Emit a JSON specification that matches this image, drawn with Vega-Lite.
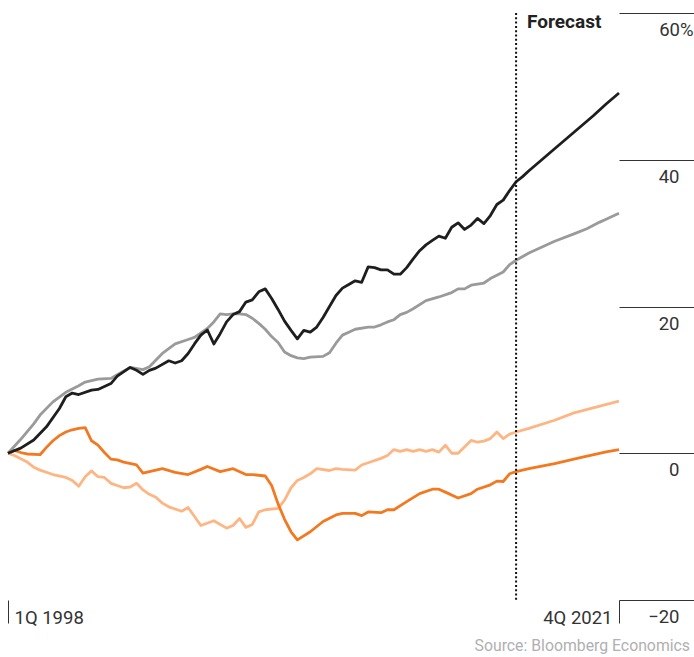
{
 "$schema": "https://vega.github.io/schema/vega-lite/v6.json",
 "width": 611,
 "height": 587,
 "autosize": {"type": "none"},
 "padding": {"left": 8, "top": 13, "right": 75, "bottom": 57},
 "config": {"view": {"stroke": null}, "font": "Roboto"},
 "datasets": {
  "series": [
   {"s":"l","d":"1998-01-01","v":0},{"s":"l","d":"1998-04-01","v":-0.3},{"s":"l","d":"1998-07-01","v":-0.75},{"s":"l","d":"1998-10-01","v":-1.2},
   {"s":"l","d":"1999-01-01","v":-1.9},{"s":"l","d":"1999-04-01","v":-2.3},{"s":"l","d":"1999-10-01","v":-2.9},
   {"s":"l","d":"2000-04-01","v":-3.3},{"s":"l","d":"2000-07-01","v":-3.7},{"s":"l","d":"2000-10-01","v":-4.5},
   {"s":"l","d":"2001-01-01","v":-3.2},{"s":"l","d":"2001-04-01","v":-2.4},{"s":"l","d":"2001-07-01","v":-3.2},{"s":"l","d":"2001-10-01","v":-3.3},
   {"s":"l","d":"2002-01-01","v":-4.1},{"s":"l","d":"2002-04-01","v":-4.4},{"s":"l","d":"2002-07-01","v":-4.7},{"s":"l","d":"2002-10-01","v":-4.6},
   {"s":"l","d":"2003-01-01","v":-4.1},{"s":"l","d":"2003-04-01","v":-5.0},{"s":"l","d":"2003-07-01","v":-5.6},{"s":"l","d":"2003-10-01","v":-6.0},
   {"s":"l","d":"2004-01-01","v":-6.8},{"s":"l","d":"2004-04-01","v":-7.3},{"s":"l","d":"2004-10-01","v":-7.9},
   {"s":"l","d":"2005-01-01","v":-7.4},{"s":"l","d":"2005-07-01","v":-9.85},
   {"s":"l","d":"2006-01-01","v":-9.2},{"s":"l","d":"2006-07-01","v":-10.2},{"s":"l","d":"2006-10-01","v":-9.85},
   {"s":"l","d":"2007-01-01","v":-8.9},{"s":"l","d":"2007-04-01","v":-10.1},{"s":"l","d":"2007-07-01","v":-9.7},{"s":"l","d":"2007-10-01","v":-8.0},
   {"s":"l","d":"2008-01-01","v":-7.7},{"s":"l","d":"2008-07-01","v":-7.5},{"s":"l","d":"2008-10-01","v":-6.4},
   {"s":"l","d":"2009-01-01","v":-4.7},{"s":"l","d":"2009-04-01","v":-3.7},{"s":"l","d":"2009-07-01","v":-3.3},{"s":"l","d":"2009-10-01","v":-2.8},
   {"s":"l","d":"2010-01-01","v":-2.1},{"s":"l","d":"2010-07-01","v":-2.35},{"s":"l","d":"2010-10-01","v":-2.1},
   {"s":"l","d":"2011-01-01","v":-2.2},{"s":"l","d":"2011-07-01","v":-2.3},{"s":"l","d":"2011-10-01","v":-1.6},
   {"s":"l","d":"2012-01-01","v":-1.3},{"s":"l","d":"2012-07-01","v":-0.7},{"s":"l","d":"2012-10-01","v":-0.3},
   {"s":"l","d":"2013-01-01","v":0.5},{"s":"l","d":"2013-04-01","v":0.25},{"s":"l","d":"2013-07-01","v":0.5},{"s":"l","d":"2013-10-01","v":0.25},
   {"s":"l","d":"2014-01-01","v":0.5},{"s":"l","d":"2014-04-01","v":0.25},{"s":"l","d":"2014-07-01","v":0.5},{"s":"l","d":"2014-10-01","v":0.15},
   {"s":"l","d":"2015-01-01","v":1.1},{"s":"l","d":"2015-04-01","v":0.0},{"s":"l","d":"2015-07-01","v":0.0},
   {"s":"l","d":"2016-01-01","v":1.75},{"s":"l","d":"2016-04-01","v":1.5},{"s":"l","d":"2016-07-01","v":1.65},{"s":"l","d":"2016-10-01","v":2.0},
   {"s":"l","d":"2017-01-01","v":2.9},{"s":"l","d":"2017-04-01","v":2.0},{"s":"l","d":"2017-07-01","v":2.6},{"s":"l","d":"2017-10-01","v":2.9},
   {"s":"l","d":"2018-04-01","v":3.4},{"s":"l","d":"2019-04-01","v":4.5},{"s":"l","d":"2020-01-01","v":5.5},{"s":"l","d":"2021-10-01","v":7.1},

   {"s":"o","d":"1998-01-01","v":0},{"s":"o","d":"1998-04-01","v":0.4},{"s":"o","d":"1998-07-01","v":0.1},{"s":"o","d":"1998-10-01","v":-0.1},
   {"s":"o","d":"1999-04-01","v":-0.2},{"s":"o","d":"1999-07-01","v":0.8},{"s":"o","d":"1999-10-01","v":1.7},
   {"s":"o","d":"2000-01-01","v":2.4},{"s":"o","d":"2000-04-01","v":2.9},{"s":"o","d":"2000-07-01","v":3.2},{"s":"o","d":"2000-10-01","v":3.4},
   {"s":"o","d":"2001-01-01","v":3.5},{"s":"o","d":"2001-04-01","v":1.7},{"s":"o","d":"2001-07-01","v":1.1},{"s":"o","d":"2001-10-01","v":0.1},
   {"s":"o","d":"2002-01-01","v":-0.8},{"s":"o","d":"2002-04-01","v":-0.9},{"s":"o","d":"2002-07-01","v":-1.2},
   {"s":"o","d":"2003-01-01","v":-1.6},{"s":"o","d":"2003-04-01","v":-2.7},{"s":"o","d":"2003-10-01","v":-2.3},
   {"s":"o","d":"2004-01-01","v":-2.1},{"s":"o","d":"2004-07-01","v":-2.6},
   {"s":"o","d":"2005-01-01","v":-2.9},{"s":"o","d":"2005-07-01","v":-2.2},{"s":"o","d":"2005-10-01","v":-1.8},
   {"s":"o","d":"2006-04-01","v":-2.5},{"s":"o","d":"2006-10-01","v":-2.1},
   {"s":"o","d":"2007-04-01","v":-2.9},{"s":"o","d":"2007-07-01","v":-2.9},
   {"s":"o","d":"2008-01-01","v":-3.1},{"s":"o","d":"2008-04-01","v":-4.4},{"s":"o","d":"2008-07-01","v":-6.9},{"s":"o","d":"2008-10-01","v":-9.0},
   {"s":"o","d":"2009-01-01","v":-10.7},{"s":"o","d":"2009-04-01","v":-11.8},{"s":"o","d":"2009-10-01","v":-10.7},
   {"s":"o","d":"2010-04-01","v":-9.3},{"s":"o","d":"2010-10-01","v":-8.4},
   {"s":"o","d":"2011-01-01","v":-8.2},{"s":"o","d":"2011-07-01","v":-8.2},{"s":"o","d":"2011-10-01","v":-8.5},
   {"s":"o","d":"2012-01-01","v":-8.0},{"s":"o","d":"2012-07-01","v":-8.1},{"s":"o","d":"2012-10-01","v":-7.7},
   {"s":"o","d":"2013-01-01","v":-7.7},{"s":"o","d":"2013-07-01","v":-6.6},
   {"s":"o","d":"2014-01-01","v":-5.5},{"s":"o","d":"2014-07-01","v":-4.9},{"s":"o","d":"2014-10-01","v":-4.9},
   {"s":"o","d":"2015-01-01","v":-5.3},{"s":"o","d":"2015-07-01","v":-6.1},
   {"s":"o","d":"2016-01-01","v":-5.5},{"s":"o","d":"2016-04-01","v":-4.9},{"s":"o","d":"2016-10-01","v":-4.3},
   {"s":"o","d":"2017-01-01","v":-3.8},{"s":"o","d":"2017-04-01","v":-3.85},{"s":"o","d":"2017-07-01","v":-2.8},{"s":"o","d":"2017-10-01","v":-2.5},
   {"s":"o","d":"2018-04-01","v":-2.1},{"s":"o","d":"2019-04-01","v":-1.4},{"s":"o","d":"2020-04-01","v":-0.6},{"s":"o","d":"2021-04-01","v":0.2},{"s":"o","d":"2021-10-01","v":0.5},

   {"s":"g","d":"1998-01-01","v":0},{"s":"g","d":"1998-07-01","v":1.9},
   {"s":"g","d":"1999-01-01","v":4.0},{"s":"g","d":"1999-04-01","v":5.2},{"s":"g","d":"1999-10-01","v":7.0},
   {"s":"g","d":"2000-04-01","v":8.3},{"s":"g","d":"2000-10-01","v":9.2},
   {"s":"g","d":"2001-01-01","v":9.7},{"s":"g","d":"2001-07-01","v":10.1},
   {"s":"g","d":"2002-01-01","v":10.2},{"s":"g","d":"2002-04-01","v":10.7},{"s":"g","d":"2002-10-01","v":11.7},
   {"s":"g","d":"2003-04-01","v":11.4},{"s":"g","d":"2003-07-01","v":11.8},
   {"s":"g","d":"2004-01-01","v":13.6},{"s":"g","d":"2004-07-01","v":14.9},
   {"s":"g","d":"2005-01-01","v":15.5},{"s":"g","d":"2005-04-01","v":15.8},{"s":"g","d":"2005-10-01","v":17.0},
   {"s":"g","d":"2006-01-01","v":17.9},{"s":"g","d":"2006-04-01","v":19.0},{"s":"g","d":"2006-07-01","v":18.9},{"s":"g","d":"2006-10-01","v":19.0},
   {"s":"g","d":"2007-01-01","v":19.0},{"s":"g","d":"2007-04-01","v":18.9},{"s":"g","d":"2007-07-01","v":18.4},{"s":"g","d":"2007-10-01","v":17.7},
   {"s":"g","d":"2008-01-01","v":16.9},{"s":"g","d":"2008-04-01","v":15.9},{"s":"g","d":"2008-07-01","v":15.1},{"s":"g","d":"2008-10-01","v":13.8},
   {"s":"g","d":"2009-01-01","v":13.3},{"s":"g","d":"2009-04-01","v":13.0},{"s":"g","d":"2009-07-01","v":12.9},{"s":"g","d":"2009-10-01","v":13.1},
   {"s":"g","d":"2010-04-01","v":13.2},{"s":"g","d":"2010-07-01","v":13.7},{"s":"g","d":"2010-10-01","v":15.0},
   {"s":"g","d":"2011-01-01","v":16.1},{"s":"g","d":"2011-04-01","v":16.5},{"s":"g","d":"2011-07-01","v":16.9},
   {"s":"g","d":"2012-01-01","v":17.2},{"s":"g","d":"2012-04-01","v":17.2},{"s":"g","d":"2012-07-01","v":17.5},{"s":"g","d":"2012-10-01","v":17.9},
   {"s":"g","d":"2013-01-01","v":18.2},{"s":"g","d":"2013-04-01","v":18.9},{"s":"g","d":"2013-07-01","v":19.2},{"s":"g","d":"2013-10-01","v":19.7},
   {"s":"g","d":"2014-04-01","v":20.8},{"s":"g","d":"2014-10-01","v":21.3},
   {"s":"g","d":"2015-04-01","v":21.9},{"s":"g","d":"2015-07-01","v":22.4},{"s":"g","d":"2015-10-01","v":22.4},
   {"s":"g","d":"2016-01-01","v":22.9},{"s":"g","d":"2016-07-01","v":23.2},{"s":"g","d":"2016-10-01","v":23.8},
   {"s":"g","d":"2017-04-01","v":24.7},{"s":"g","d":"2017-07-01","v":25.7},{"s":"g","d":"2017-10-01","v":26.3},
   {"s":"g","d":"2018-04-01","v":27.3},{"s":"g","d":"2019-04-01","v":28.9},{"s":"g","d":"2020-01-01","v":29.9},{"s":"g","d":"2020-07-01","v":30.6},
   {"s":"g","d":"2021-01-01","v":31.5},{"s":"g","d":"2021-04-01","v":31.9},{"s":"g","d":"2021-10-01","v":32.7},

   {"s":"k","d":"1998-01-01","v":0},{"s":"k","d":"1998-07-01","v":0.7},
   {"s":"k","d":"1999-01-01","v":1.8},{"s":"k","d":"1999-07-01","v":3.6},
   {"s":"k","d":"2000-01-01","v":6.1},{"s":"k","d":"2000-04-01","v":7.7},{"s":"k","d":"2000-07-01","v":8.2},{"s":"k","d":"2000-10-01","v":8.0},
   {"s":"k","d":"2001-04-01","v":8.6},{"s":"k","d":"2001-07-01","v":8.7},
   {"s":"k","d":"2002-01-01","v":9.5},{"s":"k","d":"2002-04-01","v":10.5},{"s":"k","d":"2002-10-01","v":11.7},
   {"s":"k","d":"2003-01-01","v":11.3},{"s":"k","d":"2003-04-01","v":10.75},{"s":"k","d":"2003-07-01","v":11.3},{"s":"k","d":"2003-10-01","v":11.6},
   {"s":"k","d":"2004-04-01","v":12.6},{"s":"k","d":"2004-07-01","v":12.3},{"s":"k","d":"2004-10-01","v":12.6},
   {"s":"k","d":"2005-01-01","v":13.6},{"s":"k","d":"2005-04-01","v":14.9},{"s":"k","d":"2005-07-01","v":16.1},{"s":"k","d":"2005-10-01","v":16.8},
   {"s":"k","d":"2006-01-01","v":14.9},{"s":"k","d":"2006-04-01","v":16.3},{"s":"k","d":"2006-07-01","v":17.9},{"s":"k","d":"2006-10-01","v":18.9},
   {"s":"k","d":"2007-01-01","v":19.3},{"s":"k","d":"2007-04-01","v":20.6},{"s":"k","d":"2007-07-01","v":20.9},{"s":"k","d":"2007-10-01","v":22.0},
   {"s":"k","d":"2008-01-01","v":22.4},{"s":"k","d":"2008-04-01","v":21.1},{"s":"k","d":"2008-07-01","v":19.6},{"s":"k","d":"2008-10-01","v":18.0},
   {"s":"k","d":"2009-01-01","v":16.75},{"s":"k","d":"2009-04-01","v":15.6},{"s":"k","d":"2009-07-01","v":16.75},{"s":"k","d":"2009-10-01","v":16.5},
   {"s":"k","d":"2010-01-01","v":17.2},{"s":"k","d":"2010-04-01","v":18.5},{"s":"k","d":"2010-07-01","v":20.0},{"s":"k","d":"2010-10-01","v":21.5},
   {"s":"k","d":"2011-01-01","v":22.5},{"s":"k","d":"2011-04-01","v":23.0},{"s":"k","d":"2011-07-01","v":23.5},{"s":"k","d":"2011-10-01","v":23.3},
   {"s":"k","d":"2012-01-01","v":25.4},{"s":"k","d":"2012-04-01","v":25.3},{"s":"k","d":"2012-07-01","v":25.0},{"s":"k","d":"2012-10-01","v":25.0},
   {"s":"k","d":"2013-01-01","v":24.4},{"s":"k","d":"2013-04-01","v":24.4},{"s":"k","d":"2013-07-01","v":25.3},{"s":"k","d":"2013-10-01","v":26.5},
   {"s":"k","d":"2014-01-01","v":27.6},{"s":"k","d":"2014-04-01","v":28.4},{"s":"k","d":"2014-07-01","v":29.0},{"s":"k","d":"2014-10-01","v":29.6},
   {"s":"k","d":"2015-01-01","v":29.3},{"s":"k","d":"2015-04-01","v":30.8},{"s":"k","d":"2015-07-01","v":31.4},{"s":"k","d":"2015-10-01","v":30.5},
   {"s":"k","d":"2016-01-01","v":31.1},{"s":"k","d":"2016-04-01","v":32.0},{"s":"k","d":"2016-07-01","v":31.3},{"s":"k","d":"2016-10-01","v":32.4},
   {"s":"k","d":"2017-01-01","v":33.9},{"s":"k","d":"2017-04-01","v":34.5},{"s":"k","d":"2017-07-01","v":35.8},{"s":"k","d":"2017-10-01","v":37.0},
   {"s":"k","d":"2018-01-01","v":37.7},{"s":"k","d":"2018-04-01","v":38.5},{"s":"k","d":"2018-10-01","v":40.0},
   {"s":"k","d":"2019-04-01","v":41.5},{"s":"k","d":"2019-10-01","v":43.0},{"s":"k","d":"2020-04-01","v":44.5},{"s":"k","d":"2020-10-01","v":46.0},
   {"s":"k","d":"2021-04-01","v":47.6},{"s":"k","d":"2021-10-01","v":49.1}
  ],
  "notes": [
   {"d":"2017-10-01","v":60,"t":"Forecast","k":"f"},
   {"d":"2021-10-01","v":-20,"t":"Source: Bloomberg Economics","k":"s"}
  ]
 },
 "layer": [
  {
   "mark": {"type": "rule", "color": "#333333", "strokeWidth": 1},
   "encoding": {"y": {"datum": 0, "type": "quantitative"}}
  },
  {
   "data": {"name": "series"},
   "mark": {"type": "line", "strokeWidth": 2.8, "strokeJoin": "round"},
   "encoding": {
    "x": {
     "field": "d", "type": "temporal",
     "scale": {"type": "utc", "domain": ["1998-01-01", "2021-10-01"]},
     "axis": {
      "orient": "bottom",
      "values": [{"year": 1998, "month": 1, "date": 1, "utc": true}, {"year": 2021, "month": 10, "date": 1, "utc": true}],
      "domain": false, "grid": false, "title": null,
      "tickSize": 23, "tickColor": "#333333", "tickWidth": 1,
      "labelExpr": "utcyear(datum.value) == 1998 ? '1Q 1998' : '4Q 2021'",
      "labelAlign": {"condition": {"test": "utcyear(datum.value) == 1998", "value": "left"}, "value": "right"},
      "labelOffset": {"condition": {"test": "utcyear(datum.value) == 1998", "value": 6}, "value": -7},
      "labelBaseline": "middle", "labelPadding": -6,
      "labelFontSize": 18.5, "labelColor": "#333333", "labelFont": "Roboto", "labelFlush": false, "labelOverlap": false
     }
    },
    "y": {
     "field": "v", "type": "quantitative",
     "scale": {"domain": [-20, 60]},
     "axis": {
      "orient": "right", "values": [-20, 0, 20, 40, 60],
      "domain": false, "grid": false, "title": null,
      "tickSize": 75, "tickColor": "#333333", "tickWidth": 1,
      "labelAlign": "right", "labelBaseline": "middle", "labelOffset": 16.7,
      "labelPadding": {"condition": {"test": "datum.value == 60", "value": -1}, "value": -15},
      "labelExpr": "datum.value == 60 ? '60%' : datum.label",
      "labelFontSize": 18.5, "labelColor": "#333333", "labelFont": "Roboto", "labelOverlap": false
     }
    },
    "color": {
     "field": "s", "type": "nominal",
     "scale": {"domain": ["l", "o", "g", "k"], "range": ["#fdb683", "#f37920", "#9a9a9a", "#1e1e1e"]},
     "legend": null
    }
   }
  },
  {
   "data": {"name": "notes"},
   "transform": [{"filter": "datum.k == 'f'"}],
   "mark": {"type": "rule", "color": "#111111", "strokeWidth": 2, "strokeDash": [2, 2.3]},
   "encoding": {"x": {"field": "d", "type": "temporal"}}
  },
  {
   "data": {"name": "notes"},
   "transform": [{"filter": "datum.k == 'f'"}],
   "mark": {"type": "text", "align": "left", "baseline": "middle", "dx": 11, "dy": 9, "fontSize": 19, "fontWeight": "bold", "font": "Roboto", "color": "#222222"},
   "encoding": {
    "x": {"field": "d", "type": "temporal"},
    "y": {"field": "v", "type": "quantitative"},
    "text": {"field": "t"}
   }
  },
  {
   "data": {"name": "notes"},
   "transform": [{"filter": "datum.k == 's'"}],
   "mark": {"type": "text", "align": "right", "baseline": "middle", "dx": 71, "dy": 46, "fontSize": 15.8, "font": "Roboto", "color": "#b0b0b0"},
   "encoding": {
    "x": {"field": "d", "type": "temporal"},
    "y": {"field": "v", "type": "quantitative"},
    "text": {"field": "t"}
   }
  }
 ]
}
